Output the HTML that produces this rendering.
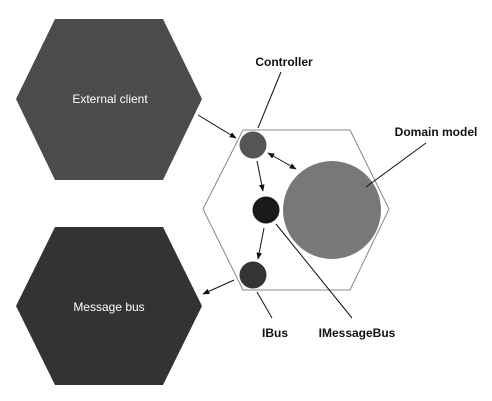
<!DOCTYPE html>
<html><head><style>
html,body{margin:0;padding:0;background:#fff;}
svg{display:block;}
.l{font-family:"Liberation Sans",sans-serif;font-size:12px;font-weight:bold;fill:#111;}
.w{font-family:"Liberation Sans",sans-serif;font-size:12px;fill:#fff;}
</style></head><body>
<svg width="492" height="401" viewBox="0 0 492 401" xmlns="http://www.w3.org/2000/svg">
<defs>
<marker id="a" viewBox="0 0 10 10" refX="9" refY="5" markerWidth="7" markerHeight="7" orient="auto-start-reverse"><path d="M0,1 L10,5 L0,9 z" fill="#111"/></marker>
</defs>
<polygon points="16,99 55,19 163,19 202,99 163,180 55,180" fill="#4a4b4a"/>
<polygon points="16,306 55,227 163,227 202,306 163,385 55,385" fill="#333"/>
<text class="w" x="110" y="103" text-anchor="middle">External client</text>
<text class="w" x="109" y="311" text-anchor="middle">Message bus</text>
<polygon points="203,209 243,130 350,130 389,209 350,290 243,290" fill="none" stroke="#888" stroke-width="1"/>
<circle cx="332" cy="210" r="49" fill="#787878"/>
<circle cx="253" cy="145" r="13.5" fill="#555"/>
<circle cx="266" cy="210" r="13.5" fill="#1a1a1a"/>
<circle cx="253" cy="275" r="13.5" fill="#353535"/>
<g stroke="#111" stroke-width="1" fill="none">
<line x1="198" y1="115" x2="236" y2="138" marker-end="url(#a)"/>
<line x1="268" y1="153" x2="296" y2="169" marker-start="url(#a)" marker-end="url(#a)"/>
<line x1="257" y1="161" x2="263" y2="191" marker-end="url(#a)"/>
<line x1="264" y1="228" x2="258" y2="259" marker-end="url(#a)"/>
<line x1="234" y1="280" x2="203" y2="294" marker-end="url(#a)"/>
<line x1="281" y1="72" x2="258" y2="128"/>
<line x1="426" y1="143" x2="366" y2="187"/>
<line x1="257" y1="292" x2="272" y2="318"/>
<line x1="276" y1="224" x2="352" y2="318"/>
</g>
<text class="l" x="284" y="66" text-anchor="middle">Controller</text>
<text class="l" x="436" y="136" text-anchor="middle">Domain model</text>
<text class="l" x="275" y="337" text-anchor="middle">IBus</text>
<text class="l" x="357" y="337" text-anchor="middle">IMessageBus</text>
</svg>
</body></html>
